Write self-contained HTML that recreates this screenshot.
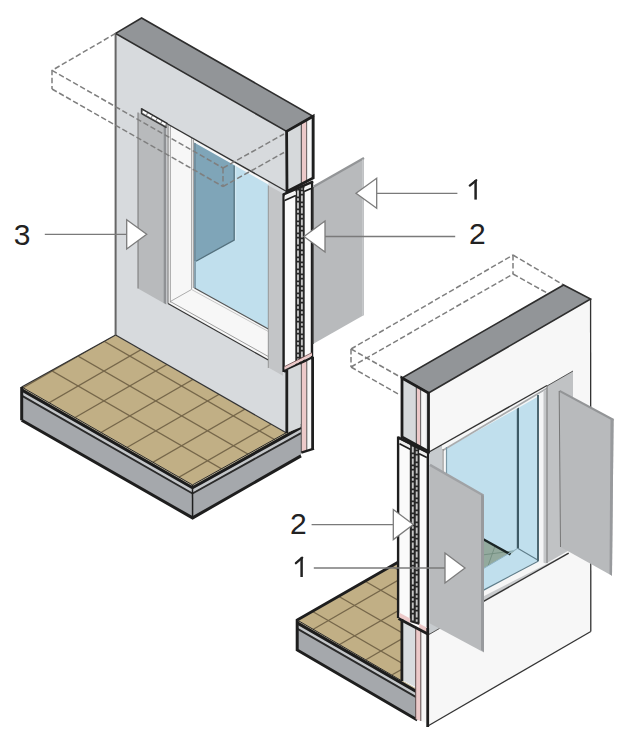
<!DOCTYPE html>
<html><head><meta charset="utf-8"><title>Shutter diagram</title>
<style>
html,body{margin:0;padding:0;background:#fff;}
body{width:630px;height:737px;overflow:hidden;}
svg{display:block;}
.lbl{font-family:"Liberation Sans",sans-serif;font-size:30px;fill:#222222;}
</style></head>
<body>
<svg width="630" height="737" viewBox="0 0 630 737">
<rect width="630" height="737" fill="#fff"/>
<polygon points="21.7,387.0 192.5,484.9 192.6,517.9 21.7,420.3" fill="#a5a8ac" stroke="none" stroke-width="0" stroke-linejoin="miter" />
<polygon points="21.7,387.0 192.5,484.9 192.5,486.3 21.7,388.4" fill="#d0c29e" stroke="none" stroke-width="0" stroke-linejoin="miter" />
<polygon points="21.7,391.2 192.5,489.1 192.5,492.7 21.7,394.8" fill="#c3c6c9" stroke="none" stroke-width="0" stroke-linejoin="miter" />
<line x1="21.7" y1="389.9" x2="192.5" y2="487.8" stroke="#1c1c1c" stroke-width="3.0" />
<line x1="21.7" y1="395.6" x2="192.5" y2="493.5" stroke="#2a2a2a" stroke-width="1.8" />
<polygon points="192.5,484.9 301.0,424.5 301.0,455.9 192.6,517.9" fill="#a5a8ac" stroke="none" stroke-width="0" stroke-linejoin="miter" />
<polygon points="192.5,484.9 301.0,424.5 301.0,425.9 192.5,486.3" fill="#d0c29e" stroke="none" stroke-width="0" stroke-linejoin="miter" />
<polygon points="192.5,489.1 301.0,428.7 301.0,432.3 192.5,492.7" fill="#c3c6c9" stroke="none" stroke-width="0" stroke-linejoin="miter" />
<line x1="192.5" y1="487.8" x2="301.0" y2="427.4" stroke="#1c1c1c" stroke-width="3.0" />
<line x1="192.5" y1="493.5" x2="301.0" y2="433.1" stroke="#2a2a2a" stroke-width="1.8" />
<polygon points="21.7,387.0 115.6,335.0 286.6,433.0 192.5,484.9" fill="#c1af85" stroke="none" stroke-width="0" stroke-linejoin="miter" />
<clipPath id="lfclip"><polygon points="21.7,387.0 115.6,335.0 286.6,433.0 192.5,484.9"/></clipPath>
<g clip-path="url(#lfclip)">
<line x1="-25.6" y1="415.9" x2="207.5" y2="281.4" stroke="#76674a" stroke-width="1.3" />
<line x1="0.3" y1="430.9" x2="233.4" y2="296.3" stroke="#76674a" stroke-width="1.3" />
<line x1="26.2" y1="445.8" x2="259.3" y2="311.2" stroke="#76674a" stroke-width="1.3" />
<line x1="52.1" y1="460.8" x2="285.2" y2="326.2" stroke="#76674a" stroke-width="1.3" />
<line x1="78.0" y1="475.7" x2="311.1" y2="341.2" stroke="#76674a" stroke-width="1.3" />
<line x1="103.9" y1="490.6" x2="337.0" y2="356.1" stroke="#76674a" stroke-width="1.3" />
<line x1="129.8" y1="505.6" x2="362.9" y2="371.1" stroke="#76674a" stroke-width="1.3" />
<line x1="0.3" y1="341.1" x2="337.0" y2="535.5" stroke="#76674a" stroke-width="1.3" />
<line x1="26.2" y1="326.2" x2="362.9" y2="520.5" stroke="#76674a" stroke-width="1.3" />
<line x1="52.1" y1="311.2" x2="388.8" y2="505.6" stroke="#76674a" stroke-width="1.3" />
<line x1="78.0" y1="296.3" x2="414.7" y2="490.6" stroke="#76674a" stroke-width="1.3" />
</g>
<line x1="21.7" y1="387.0" x2="115.6" y2="335.0" stroke="#333" stroke-width="1.3" />
<polyline points="21.7,387.0 192.5,484.9 301.0,424.5" fill="none" stroke="#2a2a2a" stroke-width="1.0" />
<polyline points="21.7,420.3 192.6,517.9 301.0,455.9" fill="none" stroke="#1e1e1e" stroke-width="3" />
<line x1="21.7" y1="387.0" x2="21.7" y2="420.3" stroke="#1e1e1e" stroke-width="3" />
<line x1="192.5" y1="484.9" x2="192.6" y2="517.9" stroke="#1e1e1e" stroke-width="1.5" />
<polygon points="115.6,33.4 286.6,131.4 286.6,433.0 115.6,335.0" fill="#d7dadd" stroke="none" stroke-width="0" stroke-linejoin="miter" />
<line x1="115.6" y1="33.4" x2="115.6" y2="335.0" stroke="#666" stroke-width="2.0" />
<line x1="115.6" y1="335.0" x2="286.6" y2="433.0" stroke="#333" stroke-width="1.2" />
<polygon points="115.6,33.4 141.6,18.0 313.0,116.2 286.6,131.4" fill="#929598" stroke="#2e2e2e" stroke-width="1.6" stroke-linejoin="miter" />
<polygon points="166.7,123.5 268.3,181.1 268.3,360.0 168.0,303.5" fill="#f7f7f7" stroke="none" stroke-width="0" stroke-linejoin="miter" />
<polygon points="194.0,142.5 268.3,184.5 268.3,329.0 194.5,288.0" fill="#c0dfed" stroke="none" stroke-width="0" stroke-linejoin="miter" />
<polygon points="194.0,142.5 234.2,165.2 234.2,240.0 196.5,261.0 194.0,261.0" fill="#7fa5b8" stroke="none" stroke-width="0" stroke-linejoin="miter" />
<polyline points="234.2,165.5 234.2,240.0 196.0,261.2" fill="none" stroke="#54717e" stroke-width="1.3" />
<line x1="235.6" y1="166.0" x2="235.6" y2="240.5" stroke="#d2e8f2" stroke-width="1.2" />
<line x1="195.0" y1="143.0" x2="195.0" y2="288.0" stroke="#6e8a98" stroke-width="1.5" />
<line x1="168.0" y1="124.5" x2="168.0" y2="303.5" stroke="#666" stroke-width="1.0" />
<line x1="170.3" y1="126.0" x2="170.3" y2="302.5" stroke="#888" stroke-width="0.8" />
<line x1="191.5" y1="138.0" x2="191.5" y2="289.0" stroke="#999" stroke-width="0.8" />
<line x1="193.3" y1="139.5" x2="193.3" y2="288.0" stroke="#777" stroke-width="0.8" />
<line x1="194.5" y1="288.0" x2="268.3" y2="329.0" stroke="#555" stroke-width="1.2" />
<line x1="191.5" y1="289.5" x2="268.3" y2="331.5" stroke="#bbb" stroke-width="0.8" />
<line x1="170.3" y1="301.5" x2="268.3" y2="356.5" stroke="#888" stroke-width="0.8" />
<line x1="168.0" y1="303.5" x2="268.3" y2="360.0" stroke="#333" stroke-width="1.2" />
<line x1="170.3" y1="301.5" x2="191.5" y2="289.5" stroke="#999" stroke-width="0.8" />
<line x1="166.7" y1="123.5" x2="286.6" y2="191.5" stroke="#333" stroke-width="1.4" />
<polygon points="268.3,185.5 283.0,193.5 283.0,375.8 268.3,367.4" fill="#c3c5c7" stroke="none" stroke-width="0" stroke-linejoin="miter" />
<line x1="268.3" y1="185.5" x2="268.3" y2="368.0" stroke="#888" stroke-width="0.8" />
<polygon points="138.0,112.5 163.5,126.0 163.5,303.0 138.0,288.5" fill="#b8babc" stroke="none" stroke-width="0" stroke-linejoin="miter" />
<polygon points="163.5,126.0 166.3,127.6 166.3,304.4 163.5,303.0" fill="#8f9194" stroke="none" stroke-width="0" stroke-linejoin="miter" />
<line x1="138.0" y1="112.5" x2="138.0" y2="288.5" stroke="#777" stroke-width="1.0" />
<polygon points="141.3,108.3 167.0,123.0 167.0,128.0 141.3,113.8" fill="#8c8c8c" stroke="none" stroke-width="0" stroke-linejoin="miter" />
<line x1="142.8" y1="111.4" x2="165.6" y2="124.4" stroke="#ffffff" stroke-width="2.6" stroke-dasharray="4.4,1.1"/>
<line x1="141.3" y1="108.6" x2="167.5" y2="123.6" stroke="#2e2e2e" stroke-width="1.6" />
<line x1="141.5" y1="113.6" x2="166.5" y2="127.6" stroke="#3a3a3a" stroke-width="1.4" />
<line x1="141.5" y1="108.3" x2="141.5" y2="114.0" stroke="#3a3a3a" stroke-width="1.4" />
<polygon points="286.6,131.4 313.2,116.2 313.2,178.0 287.0,191.5" fill="#d6d9db" stroke="none" stroke-width="0" stroke-linejoin="miter" />
<polygon points="301.2,123.6 307.0,120.3 307.0,183.6 301.2,186.5" fill="#ecc9c9" stroke="none" stroke-width="0" stroke-linejoin="miter" />
<line x1="301.3" y1="123.6" x2="301.3" y2="186.6" stroke="#444" stroke-width="1.0" />
<line x1="306.8" y1="120.3" x2="306.8" y2="183.7" stroke="#444" stroke-width="1.0" />
<polygon points="307.3,120.0 311.0,118.0 311.0,181.0 307.3,183.0" fill="#f6f6f6" stroke="none" stroke-width="0" stroke-linejoin="miter" />
<polygon points="286.6,131.4 313.2,116.2 313.2,178.0 287.0,191.5" fill="none" stroke="#1e1e1e" stroke-width="2.8" stroke-linejoin="miter" />
<polygon points="283.0,194.0 313.0,181.0 313.0,357.0 283.0,372.0" fill="#fafafa" stroke="none" stroke-width="0" stroke-linejoin="miter" />
<polygon points="295.3,190.2 304.7,186.3 304.7,361.0 295.3,365.8" fill="#262626" stroke="none" stroke-width="0" stroke-linejoin="miter" />
<line x1="298.0" y1="190.5" x2="298.0" y2="364" stroke="#c4c4c4" stroke-width="1.9" stroke-dasharray="6,1.7,2.6,1.7"/>
<line x1="301.9" y1="188.5" x2="301.9" y2="362" stroke="#c4c4c4" stroke-width="1.9" stroke-dasharray="6,1.7,2.6,1.7" stroke-dashoffset="5"/>
<line x1="283.6" y1="194.0" x2="283.6" y2="372.0" stroke="#1e1e1e" stroke-width="2.4" />
<line x1="312.0" y1="181.0" x2="312.0" y2="357.0" stroke="#1e1e1e" stroke-width="2.4" />
<line x1="283.0" y1="194.6" x2="313.0" y2="181.6" stroke="#1e1e1e" stroke-width="2.6" />
<polygon points="284.6,196.6 295.8,191.6 295.8,195.0 284.6,200.0" fill="#f2f2f2" stroke="none" stroke-width="0" stroke-linejoin="miter" />
<line x1="284.6" y1="200.5" x2="295.8" y2="195.5" stroke="#1e1e1e" stroke-width="1.6" />
<polygon points="304.2,187.8 311.0,184.8 311.0,188.0 304.2,191.0" fill="#f2f2f2" stroke="none" stroke-width="0" stroke-linejoin="miter" />
<line x1="304.2" y1="191.5" x2="311.0" y2="188.5" stroke="#1e1e1e" stroke-width="1.6" />
<polygon points="284.5,366.8 312.0,352.8 312.0,355.8 284.5,369.8" fill="#ecc9c9" stroke="none" stroke-width="0" stroke-linejoin="miter" />
<line x1="284.5" y1="366.6" x2="312.0" y2="352.6" stroke="#6a4a4a" stroke-width="0.8" />
<line x1="284.0" y1="371.6" x2="313.5" y2="357.0" stroke="#1e1e1e" stroke-width="2.8" />
<polygon points="287.5,370.0 300.7,364.0 300.7,427.3 287.5,432.5" fill="#d6d9db" stroke="none" stroke-width="0" stroke-linejoin="miter" />
<polygon points="301.3,364.0 306.7,361.5 306.7,451.0 301.3,452.7" fill="#ecc9c9" stroke="none" stroke-width="0" stroke-linejoin="miter" />
<polygon points="307.3,361.0 311.3,359.0 311.3,449.5 307.3,451.0" fill="#f6f6f6" stroke="none" stroke-width="0" stroke-linejoin="miter" />
<line x1="301.3" y1="364.0" x2="301.3" y2="452.7" stroke="#444" stroke-width="0.9" />
<line x1="306.8" y1="361.5" x2="306.8" y2="451.0" stroke="#444" stroke-width="0.9" />
<line x1="286.8" y1="370.0" x2="286.8" y2="433.0" stroke="#1e1e1e" stroke-width="2.8" />
<line x1="312.6" y1="357.0" x2="312.6" y2="449.0" stroke="#1e1e1e" stroke-width="2.8" />
<line x1="301.3" y1="452.7" x2="314.0" y2="448.7" stroke="#1e1e1e" stroke-width="2.4" />
<polygon points="313.0,187.0 364.0,158.0 364.0,315.0 313.0,344.0" fill="#b8babc" stroke="none" stroke-width="0" stroke-linejoin="miter" />
<line x1="313.5" y1="186.8" x2="364.0" y2="158.0" stroke="#939597" stroke-width="2.2" />
<line x1="362.8" y1="159.5" x2="362.8" y2="315.5" stroke="#c6c8ca" stroke-width="1.6" />
<line x1="313.3" y1="187.0" x2="313.3" y2="344.0" stroke="#555" stroke-width="1.2" />
<polyline points="115.6,33.4 52.0,70.4 52.0,89.0" fill="none" stroke="#7f7f7f" stroke-width="1.5" stroke-dasharray="5.5,2.6"/>
<line x1="52.0" y1="70.4" x2="223.0" y2="168.0" stroke="#7f7f7f" stroke-width="1.5" stroke-dasharray="5.5,2.6"/>
<line x1="52.0" y1="89.0" x2="223.0" y2="186.5" stroke="#7f7f7f" stroke-width="1.5" stroke-dasharray="5.5,2.6"/>
<line x1="223.0" y1="168.0" x2="284.0" y2="134.0" stroke="#7f7f7f" stroke-width="1.5" stroke-dasharray="5.5,2.6"/>
<line x1="223.0" y1="186.5" x2="284.0" y2="152.5" stroke="#7f7f7f" stroke-width="1.5" stroke-dasharray="5.5,2.6"/>
<line x1="223.0" y1="168.0" x2="223.0" y2="186.5" stroke="#7f7f7f" stroke-width="1.5" stroke-dasharray="5.5,2.6"/>
<line x1="351.0" y1="349.0" x2="402.0" y2="378.0" stroke="#7f7f7f" stroke-width="1.5" stroke-dasharray="5.5,2.6"/>
<line x1="351.0" y1="349.0" x2="351.0" y2="367.0" stroke="#7f7f7f" stroke-width="1.5" stroke-dasharray="5.5,2.6"/>
<line x1="351.0" y1="367.0" x2="399.0" y2="394.5" stroke="#7f7f7f" stroke-width="1.5" stroke-dasharray="5.5,2.6"/>
<line x1="351.0" y1="349.0" x2="513.0" y2="255.0" stroke="#7f7f7f" stroke-width="1.5" stroke-dasharray="5.5,2.6"/>
<line x1="351.0" y1="367.0" x2="513.0" y2="274.0" stroke="#7f7f7f" stroke-width="1.5" stroke-dasharray="5.5,2.6"/>
<line x1="513.0" y1="255.0" x2="513.0" y2="274.0" stroke="#7f7f7f" stroke-width="1.5" stroke-dasharray="5.5,2.6"/>
<line x1="513.0" y1="255.0" x2="563.6" y2="285.0" stroke="#7f7f7f" stroke-width="1.5" stroke-dasharray="5.5,2.6"/>
<line x1="513.0" y1="274.0" x2="548.0" y2="293.5" stroke="#7f7f7f" stroke-width="1.5" stroke-dasharray="5.5,2.6"/>
<polygon points="297.2,620.0 417.0,689.0 417.3,720.0 297.2,650.0" fill="#a5a8ac" stroke="none" stroke-width="0" stroke-linejoin="miter" />
<polygon points="297.2,620.0 417.0,689.0 417.0,690.4 297.2,621.4" fill="#d0c29e" stroke="none" stroke-width="0" stroke-linejoin="miter" />
<polygon points="297.2,624.2 417.0,693.2 417.0,696.8 297.2,627.8" fill="#c3c6c9" stroke="none" stroke-width="0" stroke-linejoin="miter" />
<line x1="297.2" y1="622.9" x2="417.0" y2="691.9" stroke="#1c1c1c" stroke-width="3.0" />
<line x1="297.2" y1="628.6" x2="417.0" y2="697.6" stroke="#2a2a2a" stroke-width="1.8" />
<polygon points="297.2,620.0 398.0,562.3 402.0,562.0 402.0,681.0" fill="#c1af85" stroke="none" stroke-width="0" stroke-linejoin="miter" />
<clipPath id="rfclip"><polygon points="297.2,620.0 398.0,562.3 402.0,562.0 402.0,681.0"/></clipPath>
<g clip-path="url(#rfclip)">
<line x1="313.3" y1="629.3" x2="434.5" y2="559.3" stroke="#76674a" stroke-width="1.3" />
<line x1="339.6" y1="644.5" x2="460.8" y2="574.5" stroke="#76674a" stroke-width="1.3" />
<line x1="365.9" y1="659.7" x2="487.1" y2="589.7" stroke="#76674a" stroke-width="1.3" />
<line x1="392.2" y1="674.8" x2="513.4" y2="604.8" stroke="#76674a" stroke-width="1.3" />
<line x1="418.5" y1="690.0" x2="539.7" y2="620.0" stroke="#76674a" stroke-width="1.3" />
<line x1="312.2" y1="611.3" x2="450.8" y2="691.3" stroke="#76674a" stroke-width="1.3" />
<line x1="338.5" y1="596.2" x2="477.1" y2="676.2" stroke="#76674a" stroke-width="1.3" />
<line x1="364.8" y1="581.0" x2="503.4" y2="661.0" stroke="#76674a" stroke-width="1.3" />
<line x1="391.1" y1="565.8" x2="529.7" y2="645.8" stroke="#76674a" stroke-width="1.3" />
<line x1="417.4" y1="550.6" x2="556.0" y2="630.6" stroke="#76674a" stroke-width="1.3" />
</g>
<polyline points="398.0,562.3 297.2,620.0 297.2,650.0 417.3,720.0" fill="none" stroke="#1e1e1e" stroke-width="3" />
<line x1="297.2" y1="620.0" x2="402.0" y2="681.0" stroke="#2a2a2a" stroke-width="1.0" />
<polygon points="428.5,393.0 590.6,299.0 590.8,631.5 427.0,726.5" fill="#f7f7f7" stroke="none" stroke-width="0" stroke-linejoin="miter" />
<line x1="590.6" y1="299.0" x2="590.8" y2="631.5" stroke="#333" stroke-width="1.3" />
<line x1="590.8" y1="631.5" x2="427.0" y2="726.5" stroke="#333" stroke-width="1.3" />
<polygon points="402.0,378.0 428.5,393.0 590.6,299.0 563.6,285.0" fill="#929598" stroke="#2e2e2e" stroke-width="1.6" stroke-linejoin="miter" />
<polygon points="429.0,452.0 547.0,385.5 547.0,562.0 483.0,602.0 429.0,632.0" fill="#f7f7f7" stroke="none" stroke-width="0" stroke-linejoin="miter" />
<polygon points="429.0,452.0 442.0,445.0 442.0,627.0 429.0,634.5" fill="#c7cbce" stroke="none" stroke-width="0" stroke-linejoin="miter" />
<line x1="429.0" y1="634.5" x2="442.0" y2="627.0" stroke="#555" stroke-width="1.0" />
<polygon points="446.0,446.5 537.0,395.5 537.0,561.0 482.7,591.0 446.0,612.0" fill="#c0dfed" stroke="none" stroke-width="0" stroke-linejoin="miter" />
<polygon points="482.0,539.5 510.2,554.6 517.7,548.3 482.7,569.0" fill="#93aa9e" stroke="none" stroke-width="0" stroke-linejoin="miter" />
<line x1="482.0" y1="555.0" x2="513.0" y2="551.0" stroke="#6f8a7c" stroke-width="0.8" />
<line x1="495.0" y1="546.0" x2="488.0" y2="566.0" stroke="#6f8a7c" stroke-width="0.8" />
<line x1="481.5" y1="538.3" x2="510.5" y2="554.4" stroke="#1b2626" stroke-width="2.4" />
<line x1="482.7" y1="569.0" x2="517.7" y2="548.3" stroke="#8fb3c4" stroke-width="1.0" />
<line x1="517.9" y1="406.5" x2="517.9" y2="548.3" stroke="#3d5a66" stroke-width="2.2" />
<line x1="517.7" y1="548.3" x2="537.7" y2="560.0" stroke="#5f7d8a" stroke-width="1.1" />
<line x1="446.0" y1="447.0" x2="537.0" y2="395.5" stroke="#f4f6f7" stroke-width="3.0" />
<line x1="443.0" y1="450.2" x2="547.0" y2="388.2" stroke="#a9abad" stroke-width="1.6" />
<polygon points="537.0,395.5 547.5,389.5 547.5,562.0 537.0,568.0" fill="#f4f5f6" stroke="none" stroke-width="0" stroke-linejoin="miter" />
<line x1="538.0" y1="395.0" x2="538.0" y2="561.0" stroke="#4d6670" stroke-width="2.0" />
<polygon points="543.5,391.5 547.5,389.0 547.5,563.0 543.5,565.0" fill="#c4c6c8" stroke="none" stroke-width="0" stroke-linejoin="miter" />
<line x1="443.0" y1="449.0" x2="443.0" y2="625.0" stroke="#777" stroke-width="1.0" />
<line x1="446.5" y1="447.0" x2="446.5" y2="622.0" stroke="#7a98a6" stroke-width="1.2" />
<polygon points="482.7,591.0 540.0,561.7 547.7,564.0 568.7,552.6 482.7,602.0" fill="#f6f6f6" stroke="none" stroke-width="0" stroke-linejoin="miter" />
<polygon points="482.7,596.8 547.7,563.5 568.7,552.6 482.7,601.5" fill="#c9cbcd" stroke="none" stroke-width="0" stroke-linejoin="miter" />
<line x1="482.7" y1="590.6" x2="538.5" y2="561.0" stroke="#5f7d8a" stroke-width="1.2" />
<line x1="482.7" y1="601.8" x2="568.7" y2="553.2" stroke="#333" stroke-width="1.4" />
<line x1="429.0" y1="452.0" x2="547.0" y2="385.5" stroke="#333" stroke-width="1.4" />
<polygon points="547.0,386.0 573.0,371.0 573.0,548.0 547.0,563.0" fill="#c0c2c4" stroke="none" stroke-width="0" stroke-linejoin="miter" />
<line x1="547.0" y1="386.0" x2="547.0" y2="563.0" stroke="#777" stroke-width="1.0" />
<line x1="547.0" y1="386.0" x2="573.0" y2="371.0" stroke="#555" stroke-width="1.0" />
<polygon points="559.0,391.0 613.6,420.0 612.0,575.7 560.5,547.0" fill="#b8babc" stroke="none" stroke-width="0" stroke-linejoin="miter" />
<line x1="559.5" y1="390.9" x2="613.6" y2="420.0" stroke="#939597" stroke-width="2.2" />
<polygon points="610.5,418.5 613.6,420.0 612.0,575.7 609.5,574.0" fill="#989a9d" stroke="none" stroke-width="0" stroke-linejoin="miter" />
<line x1="559.2" y1="391.0" x2="560.5" y2="547.0" stroke="#777" stroke-width="1.0" />
<polygon points="429.5,465.0 483.5,495.6 484.0,652.5 429.5,623.2" fill="#b8babc" stroke="none" stroke-width="0" stroke-linejoin="miter" />
<line x1="430.0" y1="464.9" x2="483.5" y2="495.5" stroke="#a0a2a5" stroke-width="2.4" />
<polygon points="481.0,494.0 484.0,495.6 484.0,652.0 481.0,650.0" fill="#989a9d" stroke="none" stroke-width="0" stroke-linejoin="miter" />
<polygon points="402.0,378.0 428.5,393.0 428.5,451.5 402.0,437.0" fill="#d6d9db" stroke="none" stroke-width="0" stroke-linejoin="miter" />
<polygon points="416.5,386.0 420.5,388.3 420.5,447.0 416.5,445.0" fill="#ecc9c9" stroke="none" stroke-width="0" stroke-linejoin="miter" />
<line x1="416.3" y1="386.0" x2="416.3" y2="445.0" stroke="#444" stroke-width="1.0" />
<line x1="420.8" y1="388.4" x2="420.8" y2="447.2" stroke="#444" stroke-width="1.0" />
<polygon points="421.3,388.8 425.8,391.3 425.8,450.0 421.3,447.5" fill="#f6f6f6" stroke="none" stroke-width="0" stroke-linejoin="miter" />
<polygon points="402.0,378.0 428.5,393.0 428.5,451.5 402.0,437.0" fill="none" stroke="#1e1e1e" stroke-width="2.8" stroke-linejoin="miter" />
<polygon points="398.0,437.0 428.5,452.0 428.5,628.0 398.0,618.0" fill="#fafafa" stroke="none" stroke-width="0" stroke-linejoin="miter" />
<polygon points="409.8,443.0 419.6,447.7 419.6,625.0 409.8,622.0" fill="#262626" stroke="none" stroke-width="0" stroke-linejoin="miter" />
<line x1="412.8" y1="446.5" x2="412.8" y2="622" stroke="#c4c4c4" stroke-width="1.9" stroke-dasharray="6,1.7,2.6,1.7"/>
<line x1="416.7" y1="448.5" x2="416.7" y2="623" stroke="#c4c4c4" stroke-width="1.9" stroke-dasharray="6,1.7,2.6,1.7" stroke-dashoffset="5"/>
<line x1="398.1" y1="436.5" x2="398.1" y2="618.0" stroke="#1e1e1e" stroke-width="2.4" />
<line x1="427.8" y1="452.0" x2="427.8" y2="628.0" stroke="#1e1e1e" stroke-width="2.4" />
<line x1="398.0" y1="437.5" x2="428.5" y2="452.8" stroke="#1e1e1e" stroke-width="2.6" />
<polygon points="399.5,440.0 410.2,445.4 410.2,448.6 399.5,443.2" fill="#efefef" stroke="none" stroke-width="0" stroke-linejoin="miter" />
<line x1="399.5" y1="443.8" x2="410.2" y2="449.2" stroke="#1e1e1e" stroke-width="1.6" />
<polygon points="419.2,449.9 426.8,453.7 426.8,456.9 419.2,453.1" fill="#efefef" stroke="none" stroke-width="0" stroke-linejoin="miter" />
<line x1="419.2" y1="453.7" x2="426.8" y2="457.5" stroke="#1e1e1e" stroke-width="1.6" />
<polygon points="402.0,619.0 415.5,626.5 415.5,687.0 402.0,680.0" fill="#d8dcdf" stroke="none" stroke-width="0" stroke-linejoin="miter" />
<polygon points="415.5,626.5 420.5,629.2 420.5,721.0 415.5,719.0" fill="#ecc9c9" stroke="none" stroke-width="0" stroke-linejoin="miter" />
<polygon points="421.0,629.5 426.0,632.2 426.0,723.0 421.0,721.0" fill="#f6f6f6" stroke="none" stroke-width="0" stroke-linejoin="miter" />
<line x1="415.7" y1="626.5" x2="415.7" y2="719.0" stroke="#4a3a3a" stroke-width="0.9" />
<line x1="420.8" y1="629.2" x2="420.8" y2="721.0" stroke="#4a3a3a" stroke-width="0.9" />
<polygon points="399.5,612.8 410.2,618.6 410.2,623.0 399.5,617.6" fill="#ecc9c9" stroke="none" stroke-width="0" stroke-linejoin="miter" />
<polygon points="419.2,623.6 427.0,627.8 427.0,632.6 419.2,628.4" fill="#ecc9c9" stroke="none" stroke-width="0" stroke-linejoin="miter" />
<line x1="401.9" y1="619.0" x2="401.9" y2="681.0" stroke="#1e1e1e" stroke-width="2.8" />
<line x1="427.7" y1="628.0" x2="427.7" y2="727.0" stroke="#1e1e1e" stroke-width="2.8" />
<line x1="398.5" y1="618.4" x2="428.8" y2="634.6" stroke="#1e1e1e" stroke-width="2.8" />
<line x1="44.8" y1="234.3" x2="128.0" y2="234.3" stroke="#7a7a7a" stroke-width="1.3" />
<polygon points="146.7,234.3 126.7,219.7 126.7,249.0" fill="#ffffff" stroke="#7c7c7c" stroke-width="1.3" stroke-linejoin="miter" />
<line x1="376.7" y1="193.3" x2="457.4" y2="193.3" stroke="#7a7a7a" stroke-width="1.3" />
<polygon points="356.0,193.3 376.7,178.3 376.7,208.3" fill="#ffffff" stroke="#7c7c7c" stroke-width="1.3" stroke-linejoin="miter" />
<line x1="325.0" y1="236.5" x2="455.2" y2="236.5" stroke="#7a7a7a" stroke-width="1.3" />
<polygon points="304.0,236.5 325.0,221.0 325.0,252.0" fill="#ffffff" stroke="#7c7c7c" stroke-width="1.3" stroke-linejoin="miter" />
<line x1="311.6" y1="524.6" x2="394.0" y2="524.6" stroke="#7a7a7a" stroke-width="1.3" />
<polygon points="413.3,524.6 393.3,509.6 393.3,539.6" fill="#ffffff" stroke="#7c7c7c" stroke-width="1.3" stroke-linejoin="miter" />
<line x1="313.8" y1="568.0" x2="446.0" y2="568.0" stroke="#7a7a7a" stroke-width="1.3" />
<polygon points="465.0,568.0 445.0,553.0 445.0,583.0" fill="#ffffff" stroke="#7c7c7c" stroke-width="1.3" stroke-linejoin="miter" />
<text x="13.7" y="244.6" class="lbl">3</text>
<text x="468.9" y="243.8" class="lbl">2</text>
<text x="290.1" y="533.5" class="lbl">2</text><path d="M475.6,180.1 L475.6,199.6" stroke="#222222" stroke-width="2.5" fill="none"/><path d="M476.2,180.3 L469.8,185.6" stroke="#222222" stroke-width="2.3" stroke-linecap="round" fill="none"/><path d="M301.6,557.5 L301.6,577.0" stroke="#222222" stroke-width="2.5" fill="none"/><path d="M302.2,557.7 L295.9,563.2" stroke="#222222" stroke-width="2.3" stroke-linecap="round" fill="none"/>
</svg>
</body></html>
